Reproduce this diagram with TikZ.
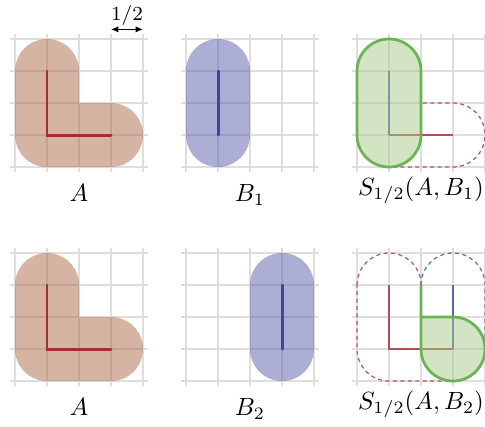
\documentclass[tikz,border=0pt]{standalone}
\usetikzlibrary{arrows.meta}
\definecolor{afill}{RGB}{173,105,73}
\definecolor{bfill}{RGB}{89,93,173}
\definecolor{gfill}{RGB}{165,201,135}
\definecolor{gline}{RGB}{106,180,86}
\definecolor{aseg}{RGB}{165,45,55}
\definecolor{bseg}{RGB}{60,72,160}
\definecolor{gridc}{RGB}{222,222,222}
\tikzset{
  gridline/.style={gridc, line width=0.6pt},
  afillst/.style={fill=afill, fill opacity=0.5},
  bfillst/.style={fill=bfill, fill opacity=0.5},
  gfillst/.style={fill=gfill, fill opacity=0.5, draw=gline, line width=1.1pt, line join=round},
  segA/.style={aseg, line width=1.2pt, line cap=round},
  segB/.style={bseg, line width=1.2pt, line cap=round},
  thinA/.style={aseg!85!white, line width=0.8pt},
  thinB/.style={bseg!85!white, line width=0.8pt},
  dashA/.style={aseg!80!white, line width=0.5pt, dash pattern=on 1.6pt off 1.4pt},
  dashB/.style={bseg!80!white, line width=0.5pt, dash pattern=on 1.6pt off 1.4pt},
  lbl/.style={anchor=base, inner sep=0pt},
}
\newcommand{\mygrid}{%
  \foreach \k in {0,...,4} {
    \draw[gridline] (-0.16,\k) -- (4.16,\k);
    \draw[gridline] (\k,-0.16) -- (\k,4.16);
  }}
\newcommand{\Apath}{(0,3) arc[start angle=180,end angle=0,radius=1] -- (2,2) -- (3,2) arc[start angle=90,end angle=-90,radius=1] -- (1,0) arc[start angle=270,end angle=180,radius=1] -- cycle}
\newcommand{\Bpath}[1]{({#1-1},3) arc[start angle=180,end angle=0,radius=1] -- ({#1+1},1) arc[start angle=0,end angle=-180,radius=1] -- cycle}
\begin{document}
\begin{tikzpicture}[x=0.4517cm, y=0.4517cm]
\useasboundingbox (-0.46875,-8.09375) rectangle (14.6875,5.21875);

% ---------- row 1 ----------
\begin{scope}
  \mygrid
  \fill[afillst] \Apath;
  \coordinate (a1t) at (1,3); \coordinate (a1c) at (1,1); \coordinate (a1r) at (3,1);
  \draw[segA, line join=miter] (a1t) -- (a1c) -- (a1r);
  \node[lbl] (lA1) at (2,-1.078) {$A$};
  \coordinate (h1) at (3,4.30); \coordinate (h2) at (4,4.30);
  \draw[{Latex[length=3pt,width=2.6pt]}-{Latex[length=3pt,width=2.6pt]}, line width=0.5pt] (h1) -- (h2);
  \node[lbl] (half) at (3.5,4.57) {\footnotesize$1/2$};
\end{scope}

\begin{scope}[shift={(5.34375,0)}]
  \mygrid
  \fill[bfillst] \Bpath{1};
  \coordinate (b1t) at (1,3); \coordinate (b1b) at (1,1);
  \draw[segB] (b1t) -- (b1b);
  \node[lbl] (lB1) at (2,-1.078) {$B_1$};
\end{scope}

\begin{scope}[shift={(10.6875,0)}]
  \mygrid
  \draw[dashA] \Apath;
  \coordinate (s1t) at (1,3); \coordinate (s1c) at (1,1); \coordinate (s1r) at (3,1);
  \draw[thinA] (s1c) -- (s1r);
  \draw[thinB] (s1t) -- (s1c);
  \filldraw[gfillst] \Bpath{1};
  \node[lbl] (lS1) at (2,-0.89) {$S_{1/2}(A,B_1)$};
\end{scope}

% ---------- row 2 ----------
\begin{scope}[shift={(0,-6.6875)}]
  \mygrid
  \fill[afillst] \Apath;
  \coordinate (a2t) at (1,3); \coordinate (a2c) at (1,1); \coordinate (a2r) at (3,1);
  \draw[segA, line join=miter] (a2t) -- (a2c) -- (a2r);
  \node[lbl] (lA2) at (2,-1.078) {$A$};
\end{scope}

\begin{scope}[shift={(5.34375,-6.6875)}]
  \mygrid
  \fill[bfillst] \Bpath{3};
  \coordinate (b2t) at (3,3); \coordinate (b2b) at (3,1);
  \draw[segB] (b2t) -- (b2b);
  \node[lbl] (lB2) at (2,-1.078) {$B_2$};
\end{scope}

\begin{scope}[shift={(10.6875,-6.6875)}]
  \mygrid
  \draw[dashA] \Apath;
  \draw[dashB] \Bpath{3};
  \coordinate (s2t) at (1,3); \coordinate (s2c) at (1,1); \coordinate (s2r) at (3,1);
  \coordinate (s2bt) at (3,3);
  \draw[thinA] (s2t) -- (s2c) -- (s2r);
  \draw[thinB] (s2bt) -- (s2r);
  \fill[gfill, fill opacity=0.5] (2,2) -- (3,2) arc[start angle=90,end angle=0,radius=1] arc[start angle=0,end angle=-180,radius=1] -- cycle;
  \draw[gline, line width=1.1pt, line join=round] (2,3) -- (2,2) -- (3,2) arc[start angle=90,end angle=0,radius=1] arc[start angle=0,end angle=-180,radius=1] -- (2,2);
  \node[lbl] (lS2) at (2,-0.89) {$S_{1/2}(A,B_2)$};
\end{scope}
\end{tikzpicture}
\end{document}
